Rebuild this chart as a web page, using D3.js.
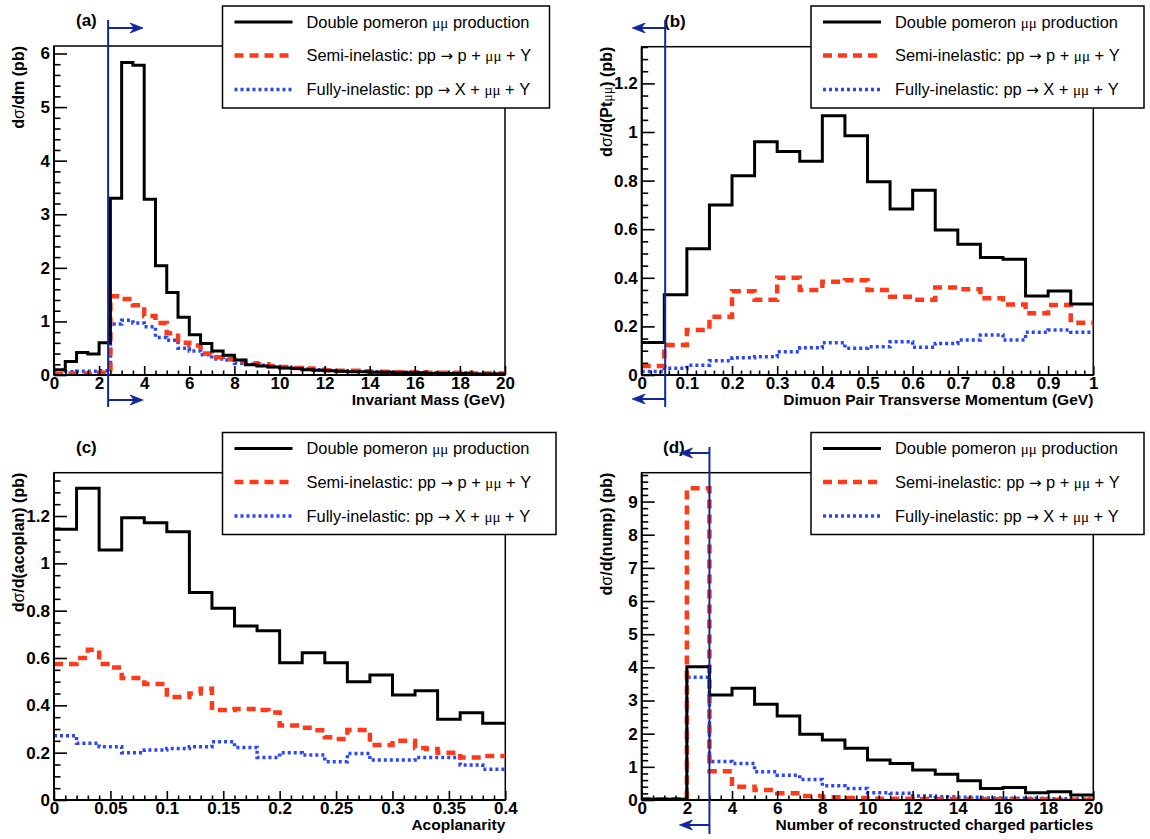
<!DOCTYPE html>
<html><head><meta charset="utf-8">
<script src="https://cdn.jsdelivr.net/npm/d3@7"></script>
<style>
body{margin:0;background:#fff;}
text{font-family:"Liberation Sans",Arial,Helvetica,sans-serif;}
</style></head>
<body><svg id="chart" width="1150" height="839"></svg>
<script>
// ---------------- DATA ----------------
// (a) invariant mass, bins of 0.5 GeV from 0 to 20
const massBinWidth = 0.5;
const massDP   = [0.10,0.25,0.42,0.39,0.60,3.30,5.83,5.78,3.28,2.04,1.54,1.08,0.75,0.59,0.45,0.37,0.28,0.19,0.17,0.15,0.13,0.12,0.10,0.09,0.08,0.07,0.06,0.06,0.05,0.05,0.04,0.04,0.04,0.03,0.03,0.03,0.03,0.02,0.02,0.02];
const massSemi = [0.02,0.03,0.03,0.02,0.04,1.47,1.42,1.30,1.10,0.97,0.78,0.60,0.55,0.40,0.33,0.30,0.26,0.22,0.20,0.17,0.15,0.13,0.12,0.10,0.09,0.08,0.08,0.07,0.06,0.06,0.05,0.05,0.05,0.04,0.04,0.04,0.04,0.03,0.03,0.03];
const massFull = [0.03,0.06,0.07,0.07,0.08,0.95,1.02,0.97,0.90,0.70,0.65,0.50,0.45,0.38,0.30,0.28,0.22,0.20,0.18,0.16,0.15,0.13,0.11,0.10,0.09,0.08,0.07,0.07,0.06,0.06,0.05,0.05,0.05,0.04,0.04,0.04,0.04,0.03,0.03,0.03];
// (b) dimuon pair pT, bins of 0.05 GeV from 0 to 1
const ptBinWidth = 0.05;
const ptDP   = [0.134,0.33,0.52,0.70,0.82,0.96,0.92,0.88,1.067,0.985,0.795,0.683,0.76,0.597,0.538,0.484,0.476,0.325,0.346,0.292];
const ptSemi = [0.037,0.123,0.185,0.24,0.345,0.31,0.40,0.35,0.384,0.39,0.35,0.322,0.31,0.36,0.353,0.316,0.29,0.254,0.288,0.215];
const ptFull = [0.014,0.028,0.04,0.059,0.071,0.075,0.096,0.112,0.133,0.11,0.116,0.137,0.114,0.13,0.144,0.165,0.144,0.176,0.185,0.176];
// (c) acoplanarity
const acoDPBinWidth = 0.02;
const acoDP   = [1.144,1.317,1.056,1.193,1.172,1.134,0.877,0.81,0.735,0.715,0.58,0.622,0.58,0.50,0.528,0.444,0.462,0.341,0.369,0.324];
const acoSemiBinWidth = 0.01;
const acoSemi = [0.575,0.575,0.60,0.635,0.575,0.56,0.515,0.515,0.49,0.49,0.435,0.435,0.45,0.47,0.38,0.38,0.385,0.385,0.38,0.37,0.315,0.315,0.305,0.295,0.265,0.258,0.296,0.296,0.232,0.232,0.25,0.25,0.22,0.215,0.20,0.20,0.18,0.18,0.186,0.186];
const acoFullBinWidth = 0.02;
const acoFull = [0.272,0.24,0.225,0.20,0.211,0.218,0.225,0.246,0.222,0.18,0.20,0.19,0.162,0.197,0.169,0.169,0.18,0.18,0.148,0.13];
// (d) number of reconstructed charged particles, bins of 1
const numpBinWidth = 1;
const numpDP   = [0.02,0.02,4.02,3.17,3.37,2.89,2.53,1.98,1.81,1.56,1.21,1.10,0.905,0.78,0.58,0.35,0.38,0.22,0.25,0.15];
const numpSemi = [0.02,0.02,9.40,0.87,0.40,0.30,0.20,0.12,0.08,0.06,0.04,0.04,0.03,0.03,0.02,0.02,0.02,0.02,0.01,0.01];
const numpFull = [0.02,0.02,3.70,1.16,1.10,0.85,0.75,0.62,0.43,0.35,0.22,0.20,0.12,0.10,0.08,0.06,0.05,0.05,0.04,0.03];

// tick labels
const massXTicks = [0,2,4,6,8,10,12,14,16,18,20];
const massYTicks = [0,1,2,3,4,5,6];
const ptXTicks = [0,0.1,0.2,0.3,0.4,0.5,0.6,0.7,0.8,0.9,1];
const ptYTicks = [0,0.2,0.4,0.6,0.8,1,1.2];
const acoXTicks = [0,0.05,0.1,0.15,0.2,0.25,0.3,0.35,0.4];
const acoYTicks = [0,0.2,0.4,0.6,0.8,1,1.2];
const numpXTicks = [0,2,4,6,8,10,12,14,16,18,20];
const numpYTicks = [0,1,2,3,4,5,6,7,8,9];

// cut positions
const massCut = 2.4;
const ptCut = 0.052;
const numpCut = 3;

// legend entries
const legendLabels = [
  ["Double pomeron ", "μμ", " production"],
  ["Semi-inelastic: pp ", "→", " p + ", "μμ", " + Y"],
  ["Fully-inelastic: pp ", "→", " X + ", "μμ", " + Y"]
];

// ---------------- DRAW ----------------
const svg = d3.select("#chart");
const RED = "#ff3a1a", BLUE = "#2a45ff", NAVY = "#12289a";
const FONT = "'Liberation Sans',Arial,sans-serif";
const styles = [
  {stroke:"#000", width:3, dash:null},
  {stroke:RED, width:4.5, dash:"9,6"},
  {stroke:BLUE, width:3.5, dash:"3,3"}
];

function panel(cfg){
  const g = svg.append("g");
  const x = d3.scaleLinear().domain(cfg.xDomain).range([cfg.x0, cfg.x1]);
  const y = d3.scaleLinear().domain(cfg.yDomain).range([cfg.y1, cfg.y0]);
  const cid = "clip"+cfg.id;
  svg.append("clipPath").attr("id",cid).append("rect")
    .attr("x",cfg.x0).attr("y",cfg.y0).attr("width",cfg.x1-cfg.x0).attr("height",cfg.y1-cfg.y0);

  // frame (top + right)
  g.append("rect").attr("x",cfg.x0).attr("y",cfg.y0).attr("width",cfg.x1-cfg.x0).attr("height",cfg.y1-cfg.y0)
    .attr("fill","none").attr("stroke","#000").attr("stroke-width",1.5);

  // histograms
  const hg = g.append("g").attr("clip-path","url(#"+cid+")");
  const line = d3.line().x(d=>x(d[0])).y(d=>y(d[1])).curve(d3.curveStepAfter);
  cfg.series.slice().reverse().forEach((s,ri)=>{
    const idx = cfg.series.length-1-ri;
    const st = styles[idx];
    const pts = s.values.map((v,i)=>[cfg.xDomain[0]+i*s.w, v]);
    pts.push([cfg.xDomain[0]+s.values.length*s.w, s.values[s.values.length-1]]);
    hg.append("path").attr("d",line(pts)).attr("fill","none")
      .attr("stroke",st.stroke).attr("stroke-width",st.width)
      .attr("stroke-dasharray",st.dash).attr("stroke-linejoin","miter");
  });

  // axes
  const eps = 1e-9;
  const yMinor = d3.range(cfg.yDomain[0], cfg.yDomain[1]+eps, cfg.yMinorStep)
    .filter(v=>!cfg.yTicks.some(t=>Math.abs(t-v)<1e-6));
  const xMinor = d3.range(cfg.xDomain[0], cfg.xDomain[1]+eps, cfg.xMinorStep)
    .filter(v=>!cfg.xTicks.some(t=>Math.abs(t-v)<1e-6));

  const yAx = g.append("g").attr("transform",`translate(${cfg.x0},0)`)
    .call(d3.axisLeft(y).tickValues(cfg.yTicks).tickSize(-13).tickPadding(4).tickFormat(d3.format("")));
  g.append("g").attr("transform",`translate(${cfg.x0},0)`)
    .call(d3.axisLeft(y).tickValues(yMinor).tickSize(-6.5).tickFormat(""))
    .call(a=>a.select(".domain").remove());
  const xAx = g.append("g").attr("transform",`translate(0,${cfg.y1})`)
    .call(d3.axisBottom(x).tickValues(cfg.xTicks).tickSize(-9).tickPadding(3).tickFormat(d3.format("")));
  g.append("g").attr("transform",`translate(0,${cfg.y1})`)
    .call(d3.axisBottom(x).tickValues(xMinor).tickSize(-4.5).tickFormat(""))
    .call(a=>a.select(".domain").remove());
  g.selectAll(".domain").attr("stroke-width",2).attr("stroke","#000");
  g.selectAll(".tick line").attr("stroke","#000").attr("stroke-width",1.6);
  yAx.selectAll(".tick text").attr("font-size",17).attr("font-weight","bold").attr("fill","#000")
     .attr("font-family",FONT);
  xAx.selectAll(".tick text").attr("font-size",17).attr("font-weight","bold").attr("fill","#000")
     .attr("font-family",FONT).attr("dy","0.62em");
  yAx.select(".domain").attr("d",`M0,${cfg.y1}V${cfg.y0}`);
  xAx.select(".domain").attr("d",`M${cfg.x0},0H${cfg.x1}`);

  // x title
  g.append("text").attr("x",cfg.x1).attr("y",cfg.y1+30).attr("text-anchor","end")
    .attr("font-size",15.5).attr("font-weight","bold").text(cfg.xTitle);
  // y title
  const yt = g.append("text").attr("transform",`translate(${cfg.x0-30},${cfg.y0}) rotate(-90)`)
    .attr("text-anchor","end").attr("font-size",16).attr("font-weight","bold");
  cfg.yTitle.forEach(p=>{
    const t = yt.append("tspan").text(p.t);
    if(p.sym) t.attr("font-weight","normal");
    if(p.sub) t.attr("font-family","'Liberation Serif',serif").attr("font-weight","normal").attr("font-size",14);
  });

  // panel label
  g.append("text").attr("x",cfg.labX).attr("y",cfg.y0-20).attr("font-size",17).attr("font-weight","bold").text(cfg.label);

  // legend
  const L = cfg.legend;
  g.append("rect").attr("x",L.x).attr("y",L.y).attr("width",L.w).attr("height",102)
    .attr("fill","#fff").attr("stroke","#000").attr("stroke-width",1.5);
  const rows = [16, 49.5, 83.5];
  legendLabels.forEach((lab,i)=>{
    const st = styles[i];
    g.append("line").attr("x1",L.x+12).attr("x2",L.x+70).attr("y1",L.y+rows[i]).attr("y2",L.y+rows[i])
      .attr("stroke",st.stroke).attr("stroke-width",st.width).attr("stroke-dasharray",st.dash);
    const t = g.append("text").attr("x",L.x+84).attr("y",L.y+rows[i]).attr("dy","0.36em").attr("font-size",16.4);
    lab.forEach(piece=>{
      const ts = t.append("tspan").text(piece);
      if(piece==="μμ") ts.attr("font-family","'Liberation Serif',serif").attr("font-size",15);
      if(piece==="→") ts.attr("font-family","'DejaVu Sans',sans-serif").attr("font-size",15);
    });
  });

  // cut line with arrows
  if(cfg.cut){
    const c = cfg.cut, cx = x(c.value);
    g.append("line").attr("x1",cx).attr("x2",cx).attr("y1",c.top).attr("y2",c.bot)
      .attr("stroke",NAVY).attr("stroke-width",2);
    [c.arrowTop, c.arrowBot].forEach(ay=>{
      const tip = cx + c.dir*c.len;
      g.append("line").attr("x1",cx).attr("x2",tip - c.dir*4).attr("y1",ay).attr("y2",ay)
        .attr("stroke",NAVY).attr("stroke-width",2);
      g.append("path").attr("d",`M${tip},${ay} L${tip-c.dir*13},${ay-5} L${tip-c.dir*9},${ay} L${tip-c.dir*13},${ay+5} Z`)
        .attr("fill",NAVY).attr("stroke",NAVY).attr("stroke-width",0.8);
    });
  }
}

panel({id:"a", x0:54, x1:505, y0:46, y1:375, xDomain:[0,20], yDomain:[0,6.14],
  xTicks:massXTicks, yTicks:massYTicks, xMinorStep:0.5, yMinorStep:0.2,
  series:[{values:massDP,w:massBinWidth},{values:massSemi,w:massBinWidth},{values:massFull,w:massBinWidth}],
  xTitle:"Invariant Mass (GeV)", yTitle:[{t:"d"},{t:"σ",sym:true},{t:"/dm (pb)"}],
  label:"(a)", labX:76, legend:{x:222.5,y:6,w:327},
  cut:{value:massCut, top:20, bot:407, arrowTop:28, arrowBot:400, dir:1, len:35}});

panel({id:"b", x0:641.7, x1:1093.3, y0:46.7, y1:375, xDomain:[0,1], yDomain:[0,1.351],
  xTicks:ptXTicks, yTicks:ptYTicks, xMinorStep:0.02, yMinorStep:0.05,
  series:[{values:ptDP,w:ptBinWidth},{values:ptSemi,w:ptBinWidth},{values:ptFull,w:ptBinWidth}],
  xTitle:"Dimuon Pair Transverse Momentum (GeV)",
  yTitle:[{t:"d"},{t:"σ",sym:true},{t:"/d(Pt"},{t:"μμ",sub:true},{t:") (pb)"}],
  label:"(b)", labX:664, legend:{x:811,y:6,w:333},
  cut:{value:ptCut, top:20, bot:407, arrowTop:28, arrowBot:399, dir:-1, len:33}});

panel({id:"c", x0:54, x1:505.3, y0:472.7, y1:800, xDomain:[0,0.4], yDomain:[0,1.383],
  xTicks:acoXTicks, yTicks:acoYTicks, xMinorStep:0.01, yMinorStep:0.05,
  series:[{values:acoDP,w:acoDPBinWidth},{values:acoSemi,w:acoSemiBinWidth},{values:acoFull,w:acoFullBinWidth}],
  xTitle:"Acoplanarity", yTitle:[{t:"d"},{t:"σ",sym:true},{t:"/d(acoplan) (pb)"}],
  label:"(c)", labX:76, legend:{x:222.5,y:432.5,w:333.5}, cut:null});

panel({id:"d", x0:641.7, x1:1093.3, y0:472.7, y1:800, xDomain:[0,20], yDomain:[0,9.87],
  xTicks:numpXTicks, yTicks:numpYTicks, xMinorStep:0.5, yMinorStep:0.2,
  series:[{values:numpDP,w:numpBinWidth},{values:numpSemi,w:numpBinWidth},{values:numpFull,w:numpBinWidth}],
  xTitle:"Number of reconstructed charged particles", yTitle:[{t:"d"},{t:"σ",sym:true},{t:"/d(nump) (pb)"}],
  label:"(d)", labX:663, legend:{x:811,y:432.5,w:333},
  cut:{value:numpCut, top:447, bot:834, arrowTop:453, arrowBot:825, dir:-1, len:30}});
</script></body></html>
